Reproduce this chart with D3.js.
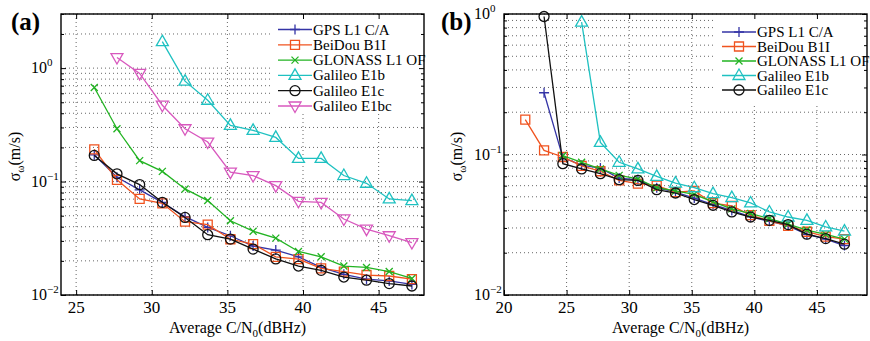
<!DOCTYPE html>
<html>
<head>
<meta charset="utf-8">
<script src="https://cdn.jsdelivr.net/npm/d3@7"></script>
<style>
body { margin: 0; background: #fff; }
svg text { font-family: "Liberation Serif", "DejaVu Serif", serif; }
</style>
</head>
<body>
<svg width="870" height="341" font-family="Liberation Serif"></svg>
<script>
// ---- panel (a) data ----
var xA = [26.2, 27.7, 29.2, 30.7, 32.2, 33.7, 35.2, 36.7, 38.2, 39.7, 41.2, 42.7, 44.2, 45.7, 47.2];
var gpsA     = [0.172, 0.109, 0.0845, 0.0656, 0.049, 0.0394, 0.0333, 0.027, 0.0249, 0.0217, 0.0175, 0.0152, 0.0138, 0.0133, 0.0124];
var beidouA  = [0.192, 0.1035, 0.0703, 0.0643, 0.0443, 0.0417, 0.031, 0.0281, 0.0217, 0.0207, 0.0172, 0.0161, 0.015, 0.0147, 0.0138];
var glonassA = [0.675, 0.292, 0.153, 0.123, 0.0861, 0.068, 0.0451, 0.0365, 0.0317, 0.0242, 0.0217, 0.018, 0.0175, 0.0161, 0.014];
var e1bA     = [null, null, null, 1.71, 0.767, 0.521, 0.313, 0.283, 0.245, 0.16, 0.16, 0.113, 0.0966, 0.0703, 0.0679];
var e1cA     = [0.17, 0.117, 0.094, 0.0656, 0.0483, 0.034, 0.0311, 0.0254, 0.0208, 0.018, 0.0165, 0.0144, 0.0135, 0.0126, 0.012];
var e1bcA    = [null, 1.24, 0.898, 0.471, 0.292, 0.223, 0.121, 0.113, 0.092, 0.067, 0.0655, 0.0468, 0.0381, 0.0333, 0.029];

// ---- panel (b) data ----
var xB = [21.7, 23.2, 24.7, 26.2, 27.7, 29.2, 30.7, 32.2, 33.7, 35.2, 36.7, 38.2, 39.7, 41.2, 42.7, 44.2, 45.7, 47.2];
var gpsB     = [null, 0.275, 0.095, 0.084, 0.08, 0.068, 0.066, 0.058, 0.054, 0.049, 0.044, 0.040, 0.036, 0.0335, 0.031, 0.027, 0.025, 0.0225];
var beidouB  = [0.177, 0.107, 0.096, 0.083, 0.076, 0.0655, 0.062, 0.060, 0.054, 0.055, 0.045, 0.043, 0.037, 0.0337, 0.031, 0.0282, 0.026, 0.025];
var glonassB = [null, null, 0.098, 0.088, 0.079, 0.071, 0.067, 0.058, 0.055, 0.052, 0.046, 0.041, 0.038, 0.035, 0.032, 0.029, 0.027, 0.025];
var e1bB     = [null, null, null, 0.875, 0.122, 0.088, 0.079, 0.0698, 0.0625, 0.058, 0.0527, 0.0493, 0.0452, 0.039, 0.0359, 0.034, 0.0305, 0.0285];
var e1cB     = [null, 0.96, 0.086, 0.079, 0.073, 0.0662, 0.0654, 0.0562, 0.0532, 0.0478, 0.0435, 0.039, 0.0359, 0.034, 0.0317, 0.0271, 0.0252, 0.023];

var xTicksA = [25, 30, 35, 40, 45];
var xTicksB = [20, 25, 30, 35, 40, 45];
var names = ["GPS L1 C/A", "BeiDou B1I", "GLONASS L1 OF", "Galileo E1b", "Galileo E1c", "Galileo E1bc"];
var colors = ["#3434a6", "#f0531f", "#22b322", "#1fc1c1", "#111111", "#d858be"];
var markers = ["plus", "square", "cross", "up", "circle", "down"];

var FONT = "'Liberation Serif', 'DejaVu Serif', serif";
var svg = d3.select('svg');

function drawMarker(g, type, cx, cy, color) {
    var p;
    if (type == "circle") {
        g.append("circle").attr("cx", cx).attr("cy", cy).attr("r", 5)
            .attr("fill", "none").attr("stroke", color).attr("stroke-width", 1.3);
        return;
    }
    if (type == "plus") p = "M-5,0H5M0,-5V5";
    if (type == "cross") p = "M-3.5,-3.5L3.5,3.5M-3.5,3.5L3.5,-3.5";
    if (type == "square") p = "M-4.5,-4.5H4.5V4.5H-4.5Z";
    if (type == "up") p = "M0,-6.5L6,4L-6,4Z";
    if (type == "down") p = "M0,6.5L6,-4L-6,-4Z";
    g.append("path").attr("d", p).attr("transform", "translate(" + cx + "," + cy + ")")
        .attr("fill", "none").attr("stroke", color).attr("stroke-width", 1.3);
}

function panel(o) {
    var x = d3.scaleLinear().domain(o.xDomain).range([o.left, o.right]);
    var y = d3.scaleLog().domain(o.yDomain).range([o.bottom, o.top]);
    var g = svg.append("g").attr("font-family", FONT);

    // log ticks: decades + minor
    var majors = [], minors = [];
    for (var e = -2; e <= 0; e++) {
        majors.push(Math.pow(10, e));
        for (var m = 2; m <= 9; m++) {
            var v = m * Math.pow(10, e);
            if (v <= o.yDomain[1] + 1e-9) minors.push(v);
        }
    }
    majors = majors.filter(function(v) { return v >= o.yDomain[0] && v <= o.yDomain[1] + 1e-9; });

    // grid
    g.selectAll(".gy").data(majors.concat(minors)).enter().append("line")
        .attr("x1", o.left).attr("x2", o.right)
        .attr("y1", function(d) { return y(d); }).attr("y2", function(d) { return y(d); })
        .attr("stroke", "#666").attr("stroke-width", 1).attr("stroke-dasharray", "1,3");
    g.selectAll(".gx").data(o.xTicks.filter(function(d) { return d > o.xDomain[0]; })).enter().append("line")
        .attr("x1", function(d) { return x(d); }).attr("x2", function(d) { return x(d); })
        .attr("y1", o.top).attr("y2", o.bottom)
        .attr("stroke", "#666").attr("stroke-width", 1).attr("stroke-dasharray", "1,3");

    // series lines + markers
    o.series.forEach(function(vals, i) {
        var pts = o.xs.map(function(xv, j) { return [xv, vals[j]]; })
            .filter(function(d) { return d[1] != null; });
        var line = d3.line().x(function(d) { return x(d[0]); }).y(function(d) { return y(d[1]); });
        g.append("path").datum(pts).attr("d", line)
            .attr("fill", "none").attr("stroke", colors[i]).attr("stroke-width", 1.3);
        pts.forEach(function(d) { drawMarker(g, markers[i], x(d[0]), y(d[1]), colors[i]); });
    });

    // legend
    g.append("rect").attr("x", o.legX).attr("y", o.top + 1)
        .attr("width", o.right - o.legX - 1).attr("height", o.legH).attr("fill", "#fff");
    o.series.forEach(function(vals, i) {
        var ly = o.legY + i * o.legStep;
        g.append("line").attr("x1", o.legX + 6).attr("x2", o.legX + 40)
            .attr("y1", ly).attr("y2", ly).attr("stroke", colors[i]).attr("stroke-width", 1.3);
        drawMarker(g, markers[i], o.legX + 23, ly, colors[i]);
        g.append("text").attr("x", o.legX + 41).attr("y", ly + 5)
            .attr("font-family", FONT).attr("font-size", 15).text(names[i]);
    });

    // axes with inward ticks
    g.append("g").attr("transform", "translate(0," + o.bottom + ")")
        .call(d3.axisBottom(x).tickValues(o.xTicks).tickSize(-5).tickFormat(""));
    g.append("g").attr("transform", "translate(0," + o.top + ")")
        .call(d3.axisTop(x).tickValues(o.xTicks).tickSize(-5).tickFormat(""));
    g.append("g").attr("transform", "translate(" + o.left + ",0)")
        .call(d3.axisLeft(y).tickValues(majors).tickSize(-5).tickFormat(""));
    g.append("g").attr("transform", "translate(" + o.right + ",0)")
        .call(d3.axisRight(y).tickValues(majors).tickSize(-5).tickFormat(""));
    g.append("g").attr("transform", "translate(" + o.left + ",0)")
        .call(d3.axisLeft(y).tickValues(minors).tickSize(-3).tickFormat(""));
    g.append("g").attr("transform", "translate(" + o.right + ",0)")
        .call(d3.axisRight(y).tickValues(minors).tickSize(-3).tickFormat(""));
    g.selectAll(".domain").remove();
    g.selectAll(".tick line").attr("stroke", "#000");
    g.append("rect").attr("x", o.left).attr("y", o.top)
        .attr("width", o.right - o.left).attr("height", o.bottom - o.top)
        .attr("fill", "none").attr("stroke", "#000").attr("stroke-width", 1.4);

    // tick labels
    g.selectAll(".xl").data(o.xTicks).enter().append("text")
        .attr("x", function(d) { return x(d); }).attr("y", o.bottom + 18)
        .attr("text-anchor", "middle").attr("font-family", FONT).attr("font-size", 17)
        .text(function(d) { return d; });
    majors.forEach(function(v) {
        var t = g.append("text").attr("x", o.left - 30).attr("y", y(v) + 5)
            .attr("font-family", FONT).attr("font-size", 16);
        t.append("tspan").text("10");
        t.append("tspan").attr("dy", -7).attr("font-size", 11)
            .text(String(Math.round(Math.log10(v))).replace("-", "\u2212"));
    });

    // axis titles
    var xt = g.append("text").attr("x", (o.left + o.right) / 2 - 5).attr("y", o.bottom + 38)
        .attr("text-anchor", "middle").attr("font-family", FONT).attr("font-size", 16);
    xt.append("tspan").text("Average C/N");
    xt.append("tspan").attr("dy", 4).attr("font-size", 11).text("0");
    xt.append("tspan").attr("dy", -4).text("(dBHz)");

    var yt = g.append("text").attr("transform", "translate(" + o.yLabX + "," + ((o.top + o.bottom) / 2 + 2) + ") rotate(-90)")
        .attr("text-anchor", "middle").attr("font-family", FONT).attr("font-size", 16);
    yt.append("tspan").text("\u03c3");
    yt.append("tspan").attr("dy", 4).attr("font-size", 11).text("\u03c9");
    yt.append("tspan").attr("dy", -4).text("(m/s)");

    svg.append("text").attr("x", o.labX).attr("y", 30).attr("font-family", FONT)
        .attr("font-size", 25).attr("font-weight", "bold").text(o.label);
}

panel({
    left: 61, right: 424, top: 14, bottom: 295,
    xDomain: [24, 48], yDomain: [0.01, 3], xTicks: xTicksA,
    xs: xA, series: [gpsA, beidouA, glonassA, e1bA, e1cA, e1bcA],
    legX: 272, legY: 29.5, legStep: 15.3, legH: 99,
    yLabX: 20, labX: 11, label: "(a)"
});

panel({
    left: 504, right: 867, top: 14, bottom: 295,
    xDomain: [20, 49], yDomain: [0.01, 1], xTicks: xTicksB,
    xs: xB, series: [gpsB, beidouB, glonassB, e1bB, e1cB],
    legX: 716, legY: 32, legStep: 14.5, legH: 88,
    yLabX: 462, labX: 441, label: "(b)"
});
</script>
</body>
</html>
